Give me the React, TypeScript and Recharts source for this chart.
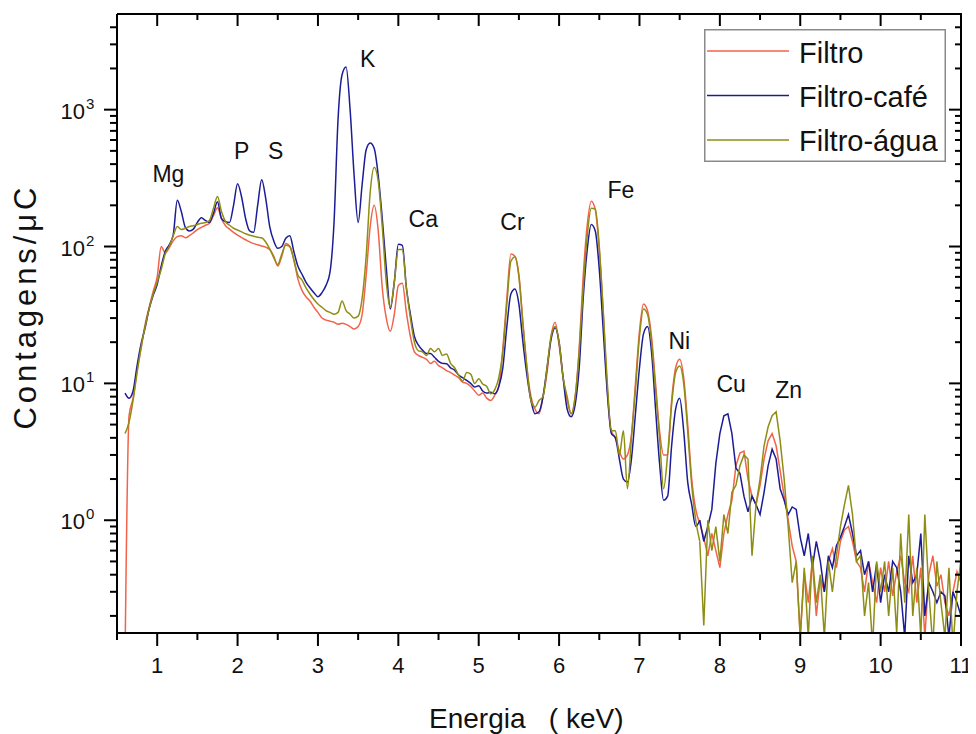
import React from 'react';
import { LineChart, Line, XAxis, YAxis, Legend, ReferenceDot } from 'recharts';

const FONT = "'Liberation Sans', Arial, Helvetica, sans-serif";

// Chart box and axis sizes
const CHART_W = 968;
const CHART_H = 726;
const MARGIN = { top: 6, right: 15, bottom: 0, left: 0 };
const Y_AXIS_W = 109;
const X_AXIS_H = 101;
const PLOT_W = CHART_W - MARGIN.left - MARGIN.right - Y_AXIS_W;
const PLOT_H = CHART_H - MARGIN.top - MARGIN.bottom - X_AXIS_H;

// Spectrum channels: energy grid in keV
const ENERGY_START = 0.6;
const ENERGY_STEP = 0.05;
// Above this energy the counts are noisy and are drawn point-to-point
const NOISY_FROM_KEV = 7.75;

// Counts per microcoulomb, one value per channel (0.60 … 11.00 keV)
const FILTRO = [
  0.1, 5.8, 7.8, 12.5, 18, 27, 36, 47, 60, 100,
  90, 98, 110, 118, 120, 116, 120, 126, 133, 138,
  143, 148, 168, 192, 160, 142, 134, 127, 121, 116,
  112, 108, 105, 103, 101, 99, 95, 85, 72, 85,
  105, 100, 80, 58, 48, 43, 40, 36, 33, 30,
  29, 28.5, 28, 27, 27.5, 27, 26, 25, 26, 32,
  62, 140, 200, 130, 50, 30, 24, 32, 52, 54,
  33, 22, 17, 16, 15.5, 15, 14, 14.5, 13.5, 13,
  12.4, 12, 11.5, 11, 10.2, 10, 9.5, 8.8, 8.2, 8.5,
  7.8, 7.5, 8.2, 9.5, 18, 42, 88, 85, 62, 28,
  13, 8, 6.5, 6.0, 8, 12, 22, 28, 19, 11,
  7.5, 6, 8, 18, 61, 143, 214, 186, 94, 32,
  9, 4.5, 4, 3.2, 2.8, 3.0, 4.2, 10, 24, 38,
  34, 22, 10, 4.5, 3.0, 3.0, 7.5, 13, 15, 11,
  5, 2.0, 1.2, 0.95, 0.75, 0.55, 0.8, 0.6, 0.45, 0.8,
  1.1, 1.4, 2.5, 3.1, 3.2, 2.0, 1.5, 1.3, 1.8, 2.8,
  3.8, 4.3, 3.5, 2.3, 1.5, 1.0, 0.65, 0.5, 0.14, 0.42,
  0.25, 0.5, 0.2, 0.38, 0.3, 0.5, 0.62, 0.45, 0.7, 0.85,
  0.9, 0.7, 0.5, 0.45, 0.3, 0.5, 0.35, 0.25, 0.45, 0.3,
  0.5, 0.28, 0.42, 0.55, 0.35, 0.3, 0.55, 0.25, 0.45, 0.14,
  0.4, 0.55, 0.33, 0.4, 0.25, 0.2, 0.3, 0.42, 0.35,
];

const FILTRO_CAFE = [
  8.5, 7.8, 8.8, 13.5, 19.5, 25.5, 35, 44, 53, 72,
  92, 103, 122, 218, 180, 138, 130, 134, 150, 162,
  155, 150, 175, 212, 160, 152, 150, 200, 288, 230,
  160, 130, 127, 200, 308, 225, 140, 110, 97, 100,
  115, 120, 92, 72, 63, 55, 50, 46, 43, 46,
  52, 65, 150, 850, 1800, 2050, 1000, 330, 150, 285,
  510, 570, 520, 330, 160, 70, 35, 55, 104, 102,
  50, 32, 22, 19, 17.5, 16.5, 16.5, 15.5, 14.5, 14,
  13.9, 13, 12.5, 11.5, 11, 10.5, 10, 9.4, 9.6, 8.8,
  8.5, 8.6, 8.4, 9.5, 13, 26, 45, 49, 38, 20,
  11.5, 7.5, 6.0, 6.2, 8, 13, 21, 25.5, 20, 11,
  6.5, 5.7, 7, 13, 42, 95, 145, 130, 68, 24,
  8.5, 4.3, 4.0, 2.8, 2.0, 1.9, 2.8, 6, 13, 23,
  26, 17, 6.5, 2.6, 1.4, 1.5, 3.5, 6.5, 7.8, 4.5,
  1.9, 1.3, 0.9, 1.0, 0.7, 0.9, 1.2, 2.6, 4.3, 5.8,
  6.0, 4.3, 2.4, 2.2, 1.5, 1.15, 1.5, 1.3, 1.1, 1.6,
  2.5, 3.3, 2.8, 1.7, 1.4, 1.1, 1.25, 1.2, 0.75, 0.55,
  0.8, 0.45, 0.7, 0.5, 0.3, 0.55, 0.45, 0.65, 0.75, 0.9,
  1.1, 0.8, 0.55, 0.6, 0.4, 0.5, 0.3, 0.48, 0.25, 0.4,
  0.3, 0.5, 0.45, 0.3, 0.14, 0.55, 0.35, 0.4, 0.8, 0.2,
  0.35, 0.3, 0.25, 0.3, 0.28, 0.14, 0.3, 0.25, 0.2,
];

const FILTRO_AGUA = [
  4.3, 5.2, 7.5, 12, 18.5, 26, 35, 45, 55, 68,
  88, 100, 120, 140, 133, 136, 140, 142, 145, 148,
  150, 155, 190, 232, 180, 152, 143, 136, 132, 128,
  124, 121, 119, 117, 116, 108, 96, 83, 74, 88,
  102, 100, 80, 62, 57, 50, 45, 41, 38, 36,
  34, 33, 32, 33, 40, 34, 32, 30, 31, 42,
  85, 250, 380, 300, 140, 55, 36, 55, 95, 95,
  50, 30, 20, 17.3, 17, 16, 18, 17, 18, 16,
  16.4, 14, 13, 11.5, 10.4, 12, 11.7, 10, 10.8, 9.9,
  9.5, 8.4, 9, 11, 17, 38, 78, 84, 60, 27,
  13, 7.5, 6.7, 7.5, 8, 13, 22, 26, 20, 11,
  8, 6, 8, 17, 50, 120, 190, 188, 100, 33,
  10, 4.5, 4.5, 3.0, 4.5, 1.7, 4, 9, 22, 35,
  32, 20, 9, 4, 1.7, 3.0, 7, 12, 13.4, 10,
  4.5, 1.8, 1.0, 0.7, 0.17, 1.0, 0.6, 0.9, 0.5, 1.1,
  0.8, 1.6, 1.8, 2.5, 3.0, 2.8, 0.55, 1.3, 2.0, 3.5,
  4.8, 5.8, 6.2, 3.8, 2.0, 0.9, 0.35, 0.5, 0.14, 0.45,
  0.14, 0.55, 0.25, 0.4, 0.14, 0.5, 0.3, 0.55, 0.9, 1.3,
  1.8, 1.1, 0.5, 0.55, 0.2, 0.35, 0.12, 0.5, 0.3, 0.5,
  0.2, 0.45, 0.15, 0.8, 0.25, 1.1, 0.2, 0.45, 0.14, 1.1,
  0.3, 0.12, 0.5, 0.25, 0.14, 0.45, 0.12, 0.3, 0.52,
];

const ENERGY_KEV = FILTRO.map((_, i) => Math.round((ENERGY_START + i * ENERGY_STEP) * 100) / 100);

const X_DOMAIN: [number, number] = [0.5, 11];
const Y_DOMAIN: [number, number] = [0.15, 5000];

const X_TICKS = [
  0.5, 1, 1.5, 2, 2.5, 3, 3.5, 4, 4.5, 5, 5.5, 6,
  6.5, 7, 7.5, 8, 8.5, 9, 9.5, 10, 10.5, 11,
];

const Y_TICKS = [
  0.2, 0.3, 0.4, 0.5, 0.6, 0.7, 0.8, 0.9,
  1, 2, 3, 4, 5, 6, 7, 8, 9,
  10, 20, 30, 40, 50, 60, 70, 80, 90,
  100, 200, 300, 400, 500, 600, 700, 800, 900,
  1000, 2000, 3000, 4000,
];

// Element names placed above their emission lines (energy keV, counts)
const PEAK_LABELS = [
  { label: 'Mg', energy: 1.14, counts: 296 },
  { label: 'P', energy: 2.05, counts: 436 },
  { label: 'S', energy: 2.475, counts: 436 },
  { label: 'K', energy: 3.62, counts: 2050 },
  { label: 'Ca', energy: 4.31, counts: 139 },
  { label: 'Cr', energy: 5.42, counts: 132 },
  { label: 'Fe', energy: 6.77, counts: 226 },
  { label: 'Ni', energy: 7.495, counts: 17.8 },
  { label: 'Cu', energy: 8.14, counts: 8.65 },
  { label: 'Zn', energy: 8.855, counts: 7.8 },
];

const SERIES = [
  { key: 'filtro', name: 'Filtro', color: '#F2634A', values: FILTRO },
  { key: 'cafe', name: 'Filtro-café', color: '#1C1C96', values: FILTRO_CAFE },
  { key: 'agua', name: 'Filtro-água', color: '#8E8E14', values: FILTRO_AGUA },
];

// Smooth peak region and noisy high-energy tail are kept in separate keys
const rows = ENERGY_KEV.map((e, i) => {
  const row: Record<string, number | null> = { e };
  SERIES.forEach((s) => {
    row[s.key] = e <= NOISY_FROM_KEV ? s.values[i] : null;
    row[`${s.key}Tail`] = e >= NOISY_FROM_KEV ? s.values[i] : null;
  });
  return row;
});

const isDecade = (v: number) => Math.abs(Math.log10(v) - Math.round(Math.log10(v))) < 1e-9;

// Energy ticks: outward on the bottom axis, mirrored inward on the top edge of the frame
const BottomTick = (props: any) => {
  const { x, y, payload } = props;
  const v = payload.value;
  const major = Number.isInteger(v);
  const top = y - PLOT_H;
  return (
    <g>
      <line x1={x} y1={y} x2={x} y2={y + (major ? 13 : 7)} stroke="#000" strokeWidth={2} />
      <line x1={x} y1={top} x2={x} y2={top + (major ? 12 : 6)} stroke="#000" strokeWidth={2} />
      {major && (
        <text x={x} y={y + 40} textAnchor="middle" fontSize={22} fontFamily={FONT} fill="#111">
          {v}
        </text>
      )}
    </g>
  );
};

// Count ticks: outward on the left axis, mirrored inward on the right edge of the frame
const LeftTick = (props: any) => {
  const { x, y, payload } = props;
  const major = isDecade(payload.value);
  const exp = Math.round(Math.log10(payload.value));
  const right = x + PLOT_W;
  return (
    <g>
      <line x1={x} y1={y} x2={x - (major ? 13 : 7)} y2={y} stroke="#000" strokeWidth={2} />
      <line x1={right} y1={y} x2={right - (major ? 12 : 6)} y2={y} stroke="#000" strokeWidth={2} />
      {major && (
        <g fontFamily={FONT} fill="#111">
          <text x={x - 32} y={y + 9} textAnchor="end" fontSize={22}>10</text>
          <text x={x - 31} y={y - 1} textAnchor="start" fontSize={15}>{exp}</text>
        </g>
      )}
    </g>
  );
};

const XTitle = (props: any) => {
  const { viewBox } = props;
  return (
    <text x={viewBox.x + 312} y={viewBox.y + 95} fontSize={28} fontFamily={FONT} fill="#111">
      {'Energia\u00a0\u00a0\u00a0( keV)'}
    </text>
  );
};

const YTitle = (props: any) => {
  const { viewBox } = props;
  const cx = viewBox.x + 28;
  const cy = viewBox.y + viewBox.height / 2 - 15;
  return (
    <text
      x={cx}
      y={cy}
      transform={`rotate(-90, ${cx}, ${cy})`}
      textAnchor="middle"
      fontSize={31}
      fontFamily={FONT}
      fill="#111"
      textLength={242}
      lengthAdjust="spacing"
    >
      Contagens/μC
    </text>
  );
};

const LegendBox = (props: any) => {
  const payload = (props.payload || []).filter((item: any) => item.type !== 'none');
  return (
    <svg width={242} height={133} style={{ display: 'block' }}>
      <rect x={0.75} y={0.75} width={240.5} height={131.5} fill="#fff" stroke="#8a8a8a" strokeWidth={1.5} />
      {payload.map((item: any, i: number) => (
        <g key={item.value}>
          <line x1={3} x2={85} y1={22 + i * 44.5} y2={22 + i * 44.5} stroke={item.color} strokeWidth={1.5} />
          <text x={95} y={33.5 + i * 44.3} fontSize={29} fontFamily={FONT} fill="#111">
            {item.value}
          </text>
        </g>
      ))}
    </svg>
  );
};

const PeakLabel = (text: string) => (props: any) => (
  <text x={props.cx} y={props.cy} textAnchor="middle" fontSize={23} fontFamily={FONT} fill="#111">
    {text}
  </text>
);

export default function App() {
  return (
    <div style={{ position: 'relative', width: CHART_W, height: CHART_H, fontFamily: FONT, background: '#fff' }}>
      <LineChart width={CHART_W} height={CHART_H} data={rows} margin={MARGIN}>
        <XAxis
          dataKey="e"
          type="number"
          domain={X_DOMAIN}
          allowDataOverflow
          ticks={X_TICKS}
          interval={0}
          height={X_AXIS_H}
          tickLine={false}
          tickSize={0}
          tickMargin={0}
          axisLine={{ stroke: '#000', strokeWidth: 2 }}
          tick={(p: any) => <BottomTick {...p} />}
          label={{ content: (p: any) => <XTitle {...p} /> }}
        />
        <YAxis
          type="number"
          scale="log"
          domain={Y_DOMAIN}
          allowDataOverflow
          ticks={Y_TICKS}
          interval={0}
          width={Y_AXIS_W}
          tickLine={false}
          tickSize={0}
          tickMargin={0}
          axisLine={{ stroke: '#000', strokeWidth: 2 }}
          tick={(p: any) => <LeftTick {...p} />}
          label={{ content: (p: any) => <YTitle {...p} /> }}
        />
        {SERIES.map((s) => (
          <Line
            key={s.key}
            dataKey={s.key}
            name={s.name}
            stroke={s.color}
            strokeWidth={1.5}
            type="monotone"
            dot={false}
            activeDot={false}
            isAnimationActive={false}
          />
        ))}
        {SERIES.map((s) => (
          <Line
            key={`${s.key}Tail`}
            dataKey={`${s.key}Tail`}
            name={`${s.name} `}
            legendType="none"
            stroke={s.color}
            strokeWidth={1.5}
            type="linear"
            dot={false}
            activeDot={false}
            isAnimationActive={false}
          />
        ))}
        {PEAK_LABELS.map((p) => (
          <ReferenceDot
            key={p.label}
            x={p.energy}
            y={p.counts}
            r={0}
            ifOverflow="visible"
            shape={PeakLabel(p.label)}
          />
        ))}
        <Legend
          layout="horizontal"
          verticalAlign="middle"
          align="center"
          wrapperStyle={{ left: 696, top: 21, width: 242, height: 133 }}
          content={(p: any) => <LegendBox {...p} />}
        />
      </LineChart>
      {/* Top and right edges of the plot frame */}
      <div
        style={{
          position: 'absolute',
          left: MARGIN.left + Y_AXIS_W,
          top: MARGIN.top - 1,
          width: PLOT_W + 1,
          height: PLOT_H + 1,
          borderTop: '2px solid #000',
          borderRight: '2px solid #000',
          boxSizing: 'border-box',
          pointerEvents: 'none',
        }}
      />
    </div>
  );
}
